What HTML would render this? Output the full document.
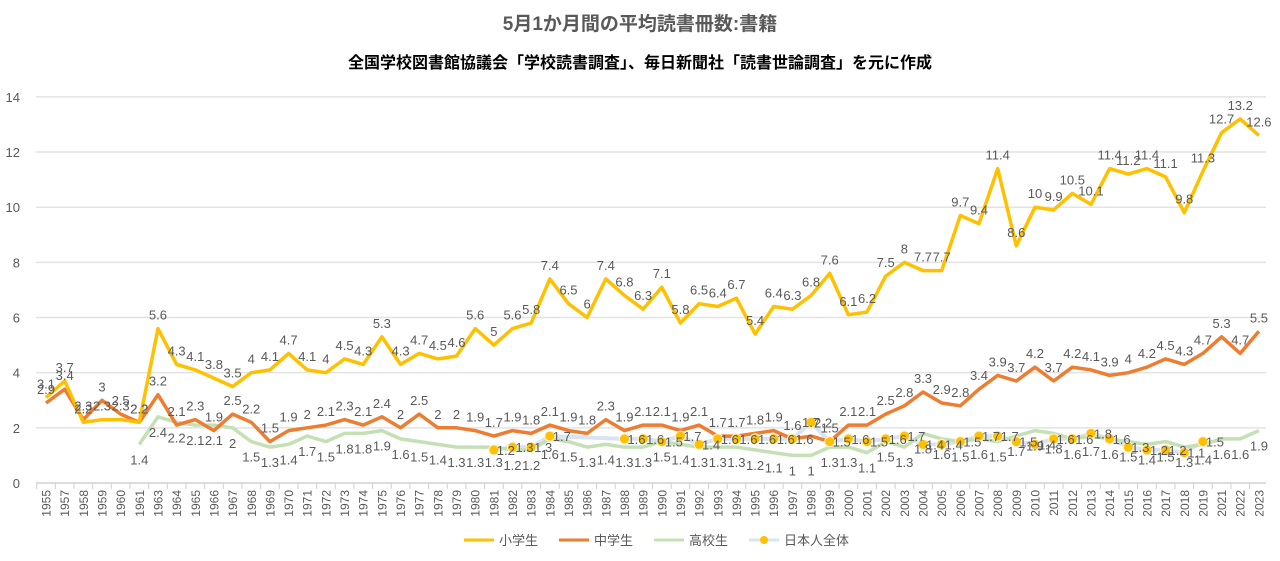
<!DOCTYPE html>
<html><head><meta charset="utf-8">
<style>
html,body{margin:0;padding:0;background:#fff;}
svg{display:block;font-family:"Liberation Sans","Noto Sans CJK JP",sans-serif;}
</style></head>
<body>
<svg id="c" width="1280" height="561" xmlns="http://www.w3.org/2000/svg"></svg>
<script>
const years=[1955,1957,1958,1959,1960,1961];
for(let y=1963;y<=2019;y++)years.push(y);
years.push(2021,2022,2023);
const el=[3.1,3.7,2.2,2.3,2.3,2.2,5.6,4.3,4.1,3.8,3.5,4,4.1,4.7,4.1,4,4.5,4.3,5.3,4.3,4.7,4.5,4.6,5.6,5,5.6,5.8,7.4,6.5,6,7.4,6.8,6.3,7.1,5.8,6.5,6.4,6.7,5.4,6.4,6.3,6.8,7.6,6.1,6.2,7.5,8,7.7,7.7,9.7,9.4,11.4,8.6,10,9.9,10.5,10.1,11.4,11.2,11.4,11.1,9.8,11.3,12.7,13.2,12.6];
const mi=[2.9,3.4,2.3,3,2.5,2.2,3.2,2.1,2.3,1.9,2.5,2.2,1.5,1.9,2,2.1,2.3,2.1,2.4,2,2.5,2,2,1.9,1.7,1.9,1.8,2.1,1.9,1.8,2.3,1.9,2.1,2.1,1.9,2.1,1.7,1.7,1.8,1.9,1.6,1.7,1.5,2.1,2.1,2.5,2.8,3.3,2.9,2.8,3.4,3.9,3.7,4.2,3.7,4.2,4.1,3.9,4,4.2,4.5,4.3,4.7,5.3,4.7,5.5];
const hi=[null,null,null,null,null,1.4,2.4,2.2,2.1,2.1,2,1.5,1.3,1.4,1.7,1.5,1.8,1.8,1.9,1.6,1.5,1.4,1.3,1.3,1.3,1.2,1.2,1.6,1.5,1.3,1.4,1.3,1.3,1.5,1.4,1.3,1.3,1.3,1.2,1.1,1,1,1.3,1.3,1.1,1.5,1.3,1.8,1.6,1.5,1.6,1.5,1.7,1.9,1.8,1.6,1.7,1.6,1.5,1.4,1.5,1.3,1.4,1.6,1.6,1.9];
const ja={1981:1.2,1982:1.3,1983:1.3,1984:1.7,1988:1.6,1989:1.6,1990:1.5,1991:1.7,1992:1.4,1993:1.6,1994:1.6,1995:1.6,1996:1.6,1997:1.6,1998:2.2,1999:1.5,2000:1.6,2001:1.5,2002:1.6,2003:1.7,2004:1.4,2005:1.4,2006:1.5,2007:1.7,2008:1.7,2009:1.5,2010:1.4,2011:1.6,2012:1.6,2013:1.8,2014:1.6,2015:1.3,2016:1.2,2017:1.2,2018:1.1,2019:1.5};
const X=i=>46+i*18.66, Y=v=>483-27.58*v;
let s='';
s+=`<text x="640" y="30" text-anchor="middle" font-size="19" font-weight="bold" fill="#595959">5月1か月間の平均読書冊数:書籍</text>`;
s+=`<text x="640" y="68" text-anchor="middle" font-size="16" font-weight="bold" fill="#000">全国学校図書館協議会「学校読書調査」、毎日新聞社「読書世論調査」を元に作成</text>`;
for(let v=0;v<=14;v+=2){
 s+=`<line x1="36" x2="1266" y1="${Y(v)}" y2="${Y(v)}" stroke="${v?'#e3e3e3':'#d0d0d0'}" stroke-width="1.5"/>`;
 s+=`<text x="20" y="${Y(v)+5}" text-anchor="end" font-size="13" fill="#595959">${v}</text>`;
}
years.forEach((y,i)=>{
 s+=`<line x1="${X(i)-9.3}" x2="${X(i)-9.3}" y1="483" y2="489" stroke="#d0d0d0"/>`;
 s+=`<text transform="translate(${X(i)+4.5},490) rotate(-90)" text-anchor="end" font-size="12" fill="#595959">${y}</text>`;
});
function line(d,col,w){let p='',st=false;d.forEach((v,i)=>{if(v==null){st=false;return;}p+=(st?'L':'M')+X(i).toFixed(1)+' '+Y(v).toFixed(1)+' ';st=true;});return `<path d="${p}" fill="none" stroke="${col}" stroke-width="${w}" stroke-linejoin="round"/>`;}
let jp='';let first=true;years.forEach((y,i)=>{if(ja[y]!==undefined){jp+=(first?'M':'L')+X(i).toFixed(1)+' '+Y(ja[y]).toFixed(1)+' ';first=false;}});
s+=`<path d="${jp}" fill="none" stroke="#dae3f3" stroke-width="4"/>`;
s+=line(hi,'#c5e0b4',3.5);
s+=line(mi,'#ed7d31',3.5);
s+=line(el,'#ffc000',3.5);
years.forEach((y,i)=>{if(ja[y]!==undefined)s+=`<circle cx="${X(i)}" cy="${Y(ja[y])}" r="5" fill="#ffc000" stroke="#fff2cc" stroke-width="1"/>`;});
function lab(d,dy){d.forEach((v,i)=>{if(v==null)return;s+=`<text x="${X(i)}" y="${Y(v)+dy}" text-anchor="middle" font-size="13" fill="#595959">${v}</text>`;});}
lab(el,-9);lab(mi,-9);lab(hi,20);
years.forEach((y,i)=>{if(ja[y]!==undefined)s+=`<text x="${X(i)+12}" y="${Y(ja[y])+5}" text-anchor="middle" font-size="13" fill="#595959">${ja[y]}</text>`;});
const lg=[['小学生','#ffc000'],['中学生','#ed7d31'],['高校生','#c5e0b4'],['日本人全体','#dae3f3']];
lg.forEach((l,k)=>{const x0=464+k*95;s+=`<line x1="${x0}" x2="${x0+30}" y1="540" y2="540" stroke="${l[1]}" stroke-width="3"/>`;
 if(k==3)s+=`<circle cx="${x0+15}" cy="540" r="4" fill="#ffc000"/>`;
 s+=`<text x="${x0+35}" y="545" font-size="13" fill="#595959">${l[0]}</text>`;});
document.getElementById('c').innerHTML=s;
</script>
</body></html>
